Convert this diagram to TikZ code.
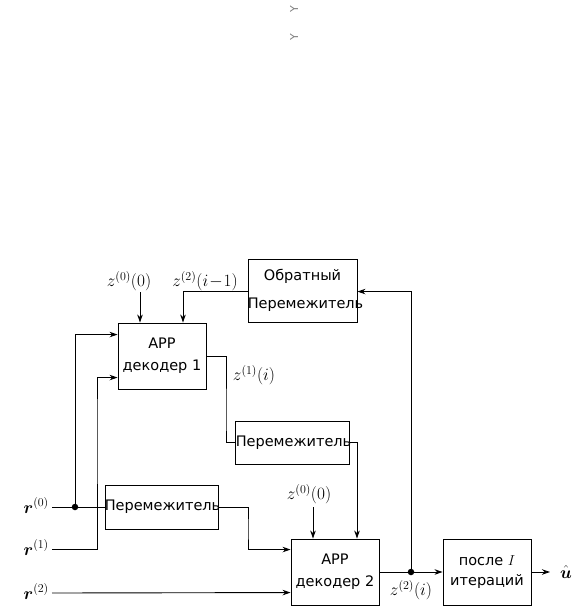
\documentclass[tikz,border=0pt]{standalone}
\usepackage{amsmath}
\usepackage{fontspec}
\newfontfamily\boxfont{DejaVu Sans}
\usetikzlibrary{arrows.meta,calc}
\newcommand{\zw}[1]{\makebox[0pt]{#1}}
\begin{document}
\begin{tikzpicture}[x=1pt,y=-1pt,
  blk/.style={draw,line width=0.9pt,inner sep=0pt,align=center,font=\boxfont\fontsize{14.5}{22}\selectfont},
  lbl/.style={inner sep=0pt,font=\fontsize{18}{21}\selectfont},
  wire/.style={line width=0.9pt},
  arr/.style={line width=0.9pt,-{Stealth[length=8pt,width=5.5pt]}},
  dot/.style={circle,fill,inner sep=0pt,minimum size=6.5pt},
  stray/.style={rotate=90,text=gray,inner sep=0pt,font=\boxfont\fontsize{11}{12}\selectfont}]
\useasboundingbox (0,0) rectangle (586,613);
% stray glyphs at the top
\node[stray] (g1) at (294,9) {Y};
\node[stray] (g2) at (294,37) {Y};
% blocks
\node[blk,minimum width=109pt,minimum height=63pt,font=\boxfont\fontsize{14.5}{28}\selectfont] (inv) at (302.5,290.5) {Обратный\\\zw{\hspace{6pt}Перемежитель}};
\node[blk,minimum width=88pt,minimum height=66pt] (dec1) at (162,356) {APP\\декодер 1};
\node[blk,minimum width=114pt,minimum height=43pt] (int1) at (292,442.5) {\zw{\hspace{3pt}Перемежитель}};
\node[blk,minimum width=113pt,minimum height=44pt] (int2) at (161.5,507) {\zw{\hspace{2pt}Перемежитель}};
\node[blk,minimum width=88pt,minimum height=66pt] (dec2) at (335,572) {APP\\декодер 2};
\node[blk,minimum width=88pt,minimum height=66pt,font=\boxfont\fontsize{14.5}{20}\selectfont] (fin) at (487,572) {после $I$\\итераций};
% labels
\node[lbl,anchor=base east] (r0) at (49,513) {$\boldsymbol{r}^{(0)}$};
\node[lbl,anchor=base east] (r1) at (49,555) {$\boldsymbol{r}^{(1)}$};
\node[lbl,anchor=base east] (r2) at (49,599) {$\boldsymbol{r}^{(2)}$};
\node[lbl] (z00a) at (129,281) {$z^{(0)}(0)$};
\node[lbl] (z2im) at (205,281) {$z^{(2)}(i\!-\!1)$};
\node[lbl] (z1i) at (254,375) {$z^{(1)}(i)$};
\node[lbl] (z00b) at (309,494) {$z^{(0)}(0)$};
\node[lbl] (z2i) at (411,590) {$z^{(2)}(i)$};
\node[lbl,anchor=west] (uhat) at (560,572) {$\hat{\boldsymbol{u}}$};
% coordinates
\coordinate (r0e) at (52,507);
\coordinate (r1e) at (52,549);
\coordinate (r2e) at (52,593);
\coordinate (j0) at (75,507);
\coordinate (j1) at (411,572);
\coordinate (d1a) at ($(dec1.north west)+(0,12)$);
\coordinate (d1b) at ($(dec1.north west)+(0,55)$);
\coordinate (d1c) at ($(dec1.north)+(-22,0)$);
\coordinate (d1d) at ($(dec1.north)+(21,0)$);
\coordinate (d1o) at ($(dec1.north east)+(0,34)$);
\coordinate (d2a) at ($(dec2.north west)+(0,11)$);
\coordinate (d2b) at ($(dec2.north west)+(0,54)$);
\coordinate (d2c) at ($(dec2.north)+(-22,0)$);
\coordinate (d2d) at ($(dec2.north)+(22,0)$);
\coordinate (z0top) at (140,292);
\coordinate (z0btop) at (313,507);
\coordinate (invl) at ($(inv.north west)+(0,33)$);
\coordinate (invr) at ($(inv.north east)+(0,33)$);
\coordinate (uend) at (550,572);
% connectors
\draw[wire] (r0e) -- (int2.west);
\draw[arr] (j0) |- (d1a);
\draw[arr] (r1e) -| (97,420) |- (d1b);
\draw[arr] (r2e) -- (d2b);
\draw[arr] (int2.east) -| (248,530) |- (d2a);
\draw[arr] (z0top) -- (d1c);
\draw[arr] (invl) -| (d1d);
\draw[wire] (d1o) -| (226,420) |- (int1.west);
\draw[arr] (int1.east) -| (d2d);
\draw[arr] (z0btop) -- (d2c);
\draw[arr] (dec2.east) -- (fin.west);
\draw[arr] (j1) |- (invr);
\draw[arr] (fin.east) -- (uend);
\node[dot] (dj0) at (j0) {};
\node[dot] (dj1) at (j1) {};
\end{tikzpicture}
\end{document}
